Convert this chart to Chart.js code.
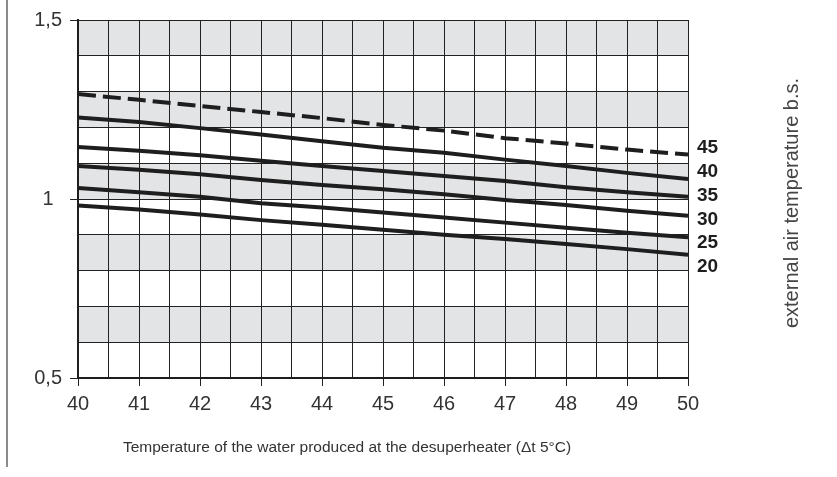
<!DOCTYPE html>
<html>
<head>
<meta charset="utf-8">
<script src="https://cdn.jsdelivr.net/npm/chart.js@4/dist/chart.umd.min.js"></script>
<style>
  html, body { margin: 0; padding: 0; background: #fff; }
  #wrap { position: relative; width: 837px; height: 477px; }
</style>
</head>
<body>
<div id="wrap"><canvas id="chart"></canvas></div>
<script>
// water temperature (x) and correction factors per outdoor temperature
const waterTemp = [40, 41, 42, 43, 44, 45, 46, 47, 48, 49, 50];
const seriesNames = ['45', '40', '35', '30', '25', '20'];
const t45 = [1.293, 1.277, 1.260, 1.243, 1.226, 1.207, 1.191, 1.170, 1.155, 1.138, 1.124];
const t40 = [1.228, 1.215, 1.198, 1.180, 1.161, 1.143, 1.129, 1.110, 1.092, 1.073, 1.056];
const t35 = [1.145, 1.135, 1.122, 1.107, 1.092, 1.078, 1.064, 1.050, 1.033, 1.019, 1.006];
const t30 = [1.092, 1.082, 1.069, 1.053, 1.039, 1.027, 1.013, 0.997, 0.983, 0.967, 0.953];
const t25 = [1.031, 1.019, 1.006, 0.988, 0.976, 0.962, 0.948, 0.934, 0.920, 0.906, 0.893];
const t20 = [0.982, 0.971, 0.957, 0.941, 0.928, 0.914, 0.900, 0.888, 0.874, 0.860, 0.844];
const seriesValues = [t45, t40, t35, t30, t25, t20];
const greyBands = [[1.4, 1.5], [1.2, 1.3], [1.0, 1.1], [0.8, 0.9], [0.6, 0.7]];

const FONT = '"Liberation Sans", Arial, sans-serif';
const isMult = (v, s) => Math.abs(v / s - Math.round(v / s)) < 1e-6;

const bandsPlugin = {
  id: 'bands',
  beforeDraw(chart) {
    const { ctx, chartArea: a, scales: { y } } = chart;
    ctx.save();
    // left frame line
    ctx.strokeStyle = '#8a8a8a';
    ctx.lineWidth = 2;
    ctx.beginPath();
    ctx.moveTo(7, 0);
    ctx.lineTo(7, 467);
    ctx.stroke();
    ctx.fillStyle = '#e3e4e6';
    greyBands.forEach(([lo, hi]) => {
      const top = y.getPixelForValue(hi);
      const bot = y.getPixelForValue(lo);
      ctx.fillRect(a.left, top, a.right - a.left, bot - top);
    });
    ctx.restore();
  }
};

const labelsPlugin = {
  id: 'endLabels',
  afterDatasetsDraw(chart) {
    const { ctx, chartArea: a } = chart;
    const ends = chart.data.datasets.map((d, i) => {
      const pts = chart.getDatasetMeta(i).data;
      return pts[pts.length - 1].y;
    });
    const mean = ends.reduce((s, v) => s + v, 0) / ends.length;
    ctx.save();
    ctx.font = 'bold 19px ' + FONT;
    ctx.fillStyle = '#1e1e1e';
    ctx.textAlign = 'left';
    ctx.textBaseline = 'middle';
    seriesNames.forEach((n, i) => {
      ctx.fillText(n, a.right + 9, mean + (i - (seriesNames.length - 1) / 2) * 23.8 + 1);
    });
    // axis titles
    ctx.fillStyle = '#333';
    ctx.font = '15.5px ' + FONT;
    ctx.textAlign = 'center';
    ctx.fillText('Temperature of the water produced at the desuperheater (\u0394t 5\u00b0C)', 347, 448);
    ctx.translate(792, 203);
    ctx.rotate(-Math.PI / 2);
    ctx.font = '20px ' + FONT;
    ctx.fillStyle = '#444';
    ctx.fillText('external air temperature b.s.', 0, 0);
    ctx.restore();
  }
};

new Chart(document.getElementById('chart'), {
  type: 'line',
  data: {
    datasets: seriesValues.map((vals, i) => ({
      label: seriesNames[i],
      data: vals.map((v, j) => ({ x: waterTemp[j], y: v })),
      borderColor: '#1e1e1e',
      borderWidth: 4,
      borderDash: i === 0 ? [18, 7] : [],
      pointRadius: 0,
      tension: 0,
      fill: false
    }))
  },
  options: {
    responsive: true,
    maintainAspectRatio: false,
    animation: false,
    layout: { padding: { top: 18, right: 149, left: 0, bottom: 0 } },
    plugins: { legend: { display: false }, tooltip: { enabled: false } },
    scales: {
      x: {
        type: 'linear',
        min: 40,
        max: 50,
        afterFit: s => { s.height = 99; },
        ticks: {
          stepSize: 0.5,
          autoSkip: false,
          maxRotation: 0,
          padding: 6,
          color: '#333',
          font: { family: FONT, size: 20 },
          callback: v => isMult(v, 1) ? String(v) : ''
        },
        grid: {
          color: '#222',
          lineWidth: 1,
          tickLength: 8,
          tickColor: c => isMult(c.tick.value, 1) ? '#222' : 'rgba(0,0,0,0)'
        },
        border: { color: '#1e1e1e', width: 2 }
      },
      y: {
        min: 0.5,
        max: 1.5,
        afterFit: s => { s.width = 78; },
        ticks: {
          stepSize: 0.1,
          autoSkip: false,
          padding: 8,
          crossAlign: 'center',
          color: '#333',
          font: { family: FONT, size: 20 },
          callback: v => isMult(v, 0.5) ? String(Math.round(v * 10) / 10).replace('.', ',') : ''
        },
        grid: {
          color: '#222',
          lineWidth: 1,
          tickLength: 8,
          tickColor: c => isMult(c.tick.value, 0.5) ? '#222' : 'rgba(0,0,0,0)'
        },
        border: { color: '#1e1e1e', width: 2 }
      }
    }
  },
  plugins: [bandsPlugin, labelsPlugin]
});
</script>
</body>
</html>
